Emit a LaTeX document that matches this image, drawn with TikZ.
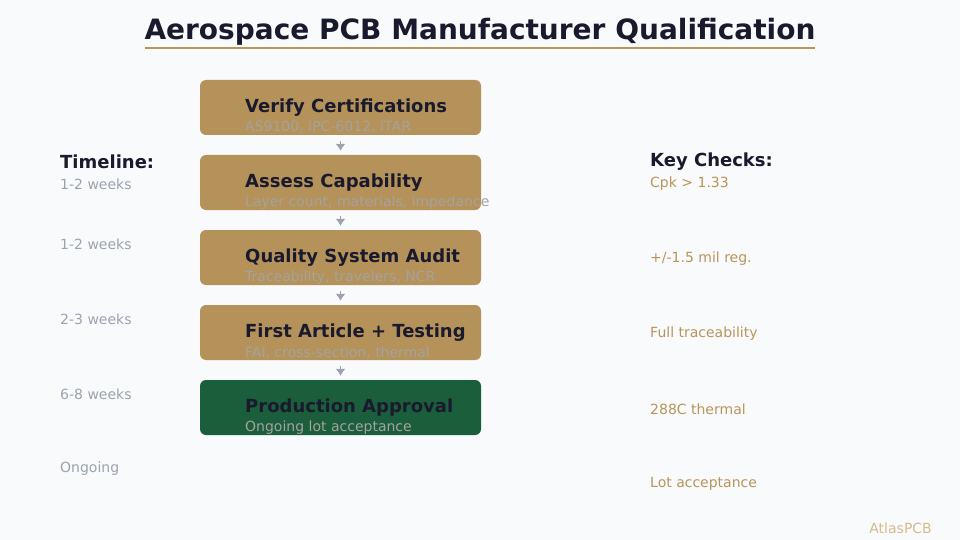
\documentclass[tikz,border=0pt]{standalone}
\usepackage{fontspec}
\setmainfont{DejaVu Sans}
\usepackage{xcolor}
\usetikzlibrary{positioning}
\usetikzlibrary{arrows,arrows.meta}
\definecolor{pagebg}{HTML}{F8FAFC}
\definecolor{boxgold}{HTML}{B5925A}
\definecolor{boxgreen}{HTML}{1B5E3B}
\definecolor{inkdark}{HTML}{1A1A2E}
\definecolor{softgray}{HTML}{9CA3AF}
\definecolor{notegray}{HTML}{A3A39E}
\definecolor{checkgold}{HTML}{B8965A}
\definecolor{brandgold}{HTML}{D4BC8C}
\tikzset{edge/.style = {-{Latex[length=7pt,width=10pt]}, draw=softgray, line width=1.5pt, shorten <=6pt, shorten >=4pt}}

\begin{document}
\begin{tikzpicture}[x=1pt,y=-1pt,node distance=75pt,
  step box/.style={rectangle,rounded corners=6pt,fill=boxgold,minimum width=281pt,minimum height=55pt,inner sep=0pt},
  step title/.style={anchor=west,inner sep=0pt,text=inkdark,font=\fontsize{18}{21}\selectfont\bfseries},
  step note/.style={anchor=west,inner sep=0pt,text=notegray,font=\fontsize{14}{16}\selectfont},
  side head/.style={anchor=west,inner sep=0pt,text=inkdark,font=\fontsize{18}{21}\selectfont\bfseries},
  time item/.style={anchor=west,inner sep=0pt,text=softgray,font=\fontsize{14}{16}\selectfont},
  check item/.style={anchor=west,inner sep=0pt,text=checkgold,font=\fontsize{14}{16}\selectfont}]
  \fill[pagebg] (0,0) rectangle (960,540);
  \useasboundingbox (0,0) rectangle (960,540);

  % title
  \node[inner sep=0pt,text=inkdark,font=\fontsize{28}{32}\selectfont\bfseries] (title) at (480,32) {Aerospace PCB Manufacturer Qualification};
  \draw[checkgold,line width=2pt] (145,48) -- (815,48);

  % steps
  \node[step box] (1) at (340.5,107.5) {};
  \node[step box] (2) [below of=1] {};
  \node[step box] (3) [below of=2] {};
  \node[step box] (4) [below of=3] {};
  \node[step box,fill=boxgreen] (5) [below of=4] {};

  \node[step title] (t1) at (245,107.5) {Verify Certifications};
  \node[step note] (n1) at (245,127.5) {AS9100, IPC-6012, ITAR};
  \node[step title] (t2) at (245,182.5) {Assess Capability};
  \node[step note] (n2) at (245,202.5) {Layer count, materials, impedance};
  \node[step title] (t3) at (245,257.5) {Quality System Audit};
  \node[step note] (n3) at (245,277.5) {Traceability, travelers, NCR};
  \node[step title] (t4) at (245,332.5) {First Article + Testing};
  \node[step note] (n4) at (245,352.5) {FAI, cross-section, thermal};
  \node[step title] (t5) at (245,407.5) {Production Approval};
  \node[step note] (n5) at (245,427.5) {Ongoing lot acceptance};

  \path (1) edge[edge] (2);
  \path (2) edge[edge] (3);
  \path (3) edge[edge] (4);
  \path (4) edge[edge] (5);

  % timeline
  \node[side head] (timehead) at (60,162) {Timeline:};
  \node[time item] (w1) at (60,184) {1-2 weeks};
  \node[time item] (w2) at (60,244) {1-2 weeks};
  \node[time item] (w3) at (60,319) {2-3 weeks};
  \node[time item] (w4) at (60,394) {6-8 weeks};
  \node[time item] (w5) at (60,469) {Ongoing};

  % key checks
  \node[side head] (checkhead) at (650,162) {Key Checks:};
  \node[check item] (c1) at (650,184) {Cpk > 1.33};
  \node[check item] (c2) at (650,259) {+/-1.5 mil reg.};
  \node[check item] (c3) at (650,334) {Full traceability};
  \node[check item] (c4) at (650,409) {288C thermal};
  \node[check item] (c5) at (650,484) {Lot acceptance};

  \node[anchor=east,inner sep=0pt,text=brandgold,font=\fontsize{14}{16}\selectfont] (brand) at (932,528) {AtlasPCB};
\end{tikzpicture}
\end{document}
